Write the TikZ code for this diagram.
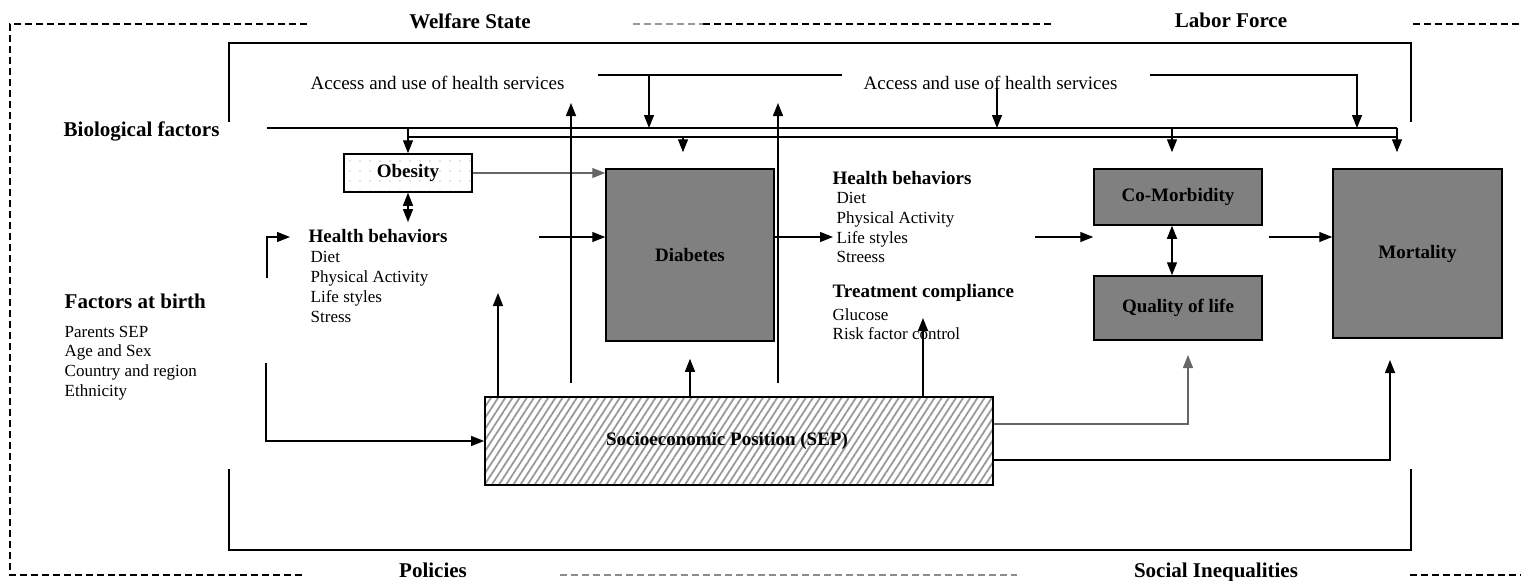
\documentclass[tikz,border=0pt]{standalone}
\usepackage{fontspec}
\setmainfont{Liberation Serif}
\usetikzlibrary{arrows.meta,patterns.meta}
\definecolor{boxgray}{RGB}{128,128,128}
\begin{document}
\begin{tikzpicture}[x=1pt,y=-1pt,line width=1.4pt,
  arr/.style={-{Triangle[length=13pt,width=10pt]}},
  dbl/.style={{Triangle[length=13pt,width=10pt]}-{Triangle[length=13pt,width=10pt]}},
  box/.style={draw,line width=1.5pt,fill=boxgray,inner sep=0pt,font=\fontsize{19}{22}\selectfont\bfseries},
  headA/.style={inner sep=0pt,font=\fontsize{21}{24}\selectfont\bfseries},
  headB/.style={inner sep=0pt,font=\fontsize{19}{22}\selectfont\bfseries},
  acc/.style={inner sep=0pt,font=\fontsize{19}{22}\selectfont},
  itm/.style={inner sep=0pt,font=\fontsize{17}{20}\selectfont,anchor=base west},
  frame/.style={line width=1.1pt,dash pattern=on 7pt off 4pt}
]
\useasboundingbox (0,0) rectangle (1521,581);

% outer dashed frame
\draw[frame] (307,24) -- (10,24) -- (10,575) -- (305,575);
\draw[frame,black!40] (633,24) -- (703,24);
\draw[frame] (703,24) -- (1052,24);
\draw[frame] (1413,24) -- (1521,24);
\draw[frame,black!45] (560,575) -- (1017,575);
\draw[frame] (1410,575) -- (1521,575);

% frame labels
\node[headA,anchor=base] (welfare) at (470,28) {Welfare State};
\node[headA,anchor=base] (labor) at (1231,27.5) {Labor Force};
\node[headA,anchor=base] (policies) at (433,577) {Policies};
\node[headA,anchor=base] (socineq) at (1216,577) {Social Inequalities};

% solid brackets
\draw (229,122) -- (229,43) -- (1411,43) -- (1411,122);
\draw (229,469) -- (229,550) -- (1411,550) -- (1411,469);

% boxes
\node[box,minimum width=168pt,minimum height=172pt] (diabetes) at (690,255) {Diabetes};
\node[box,minimum width=168pt,minimum height=56pt] (comorb) at (1178,197) {Co-Morbidity};
\node[box,minimum width=168pt,minimum height=64pt] (qol) at (1178,308) {Quality of life};
\node[box,minimum width=169pt,minimum height=169pt] (mort) at (1417.5,253.5) {Mortality};
\node[draw,line width=1.5pt,inner sep=0pt,pattern={Lines[angle=57,distance=6pt,line width=1.8pt]},pattern color=black!40,
  minimum width=508pt,minimum height=88pt,font=\fontsize{19}{22}\selectfont\bfseries] (sep) at (739,441) {Socioeconomic Position (SEP)\hspace*{24pt}};
\node[draw,line width=1.5pt,inner sep=0pt,pattern={Dots[distance=10pt,radius=0.7pt]},pattern color=black!45,
  minimum width=128pt,minimum height=38pt,font=\fontsize{19}{22}\selectfont\bfseries] (obesity) at (408,173) {Obesity};

% text blocks
\node[headA,anchor=base west] (bio) at (63,136) {Biological factors};
\node[acc,anchor=base west] (access1) at (310,89) {Access and use of health services};
\node[acc,anchor=base west] (access2) at (863,89) {Access and use of health services};

\node[headA,anchor=base west] (fab) at (64,308) {Factors at birth};
\node[itm] (fab1) at (64,337) {Parents SEP};
\node[itm] (fab2) at (64,356.7) {Age and Sex};
\node[itm] (fab3) at (64,376.4) {Country and region};
\node[itm] (fab4) at (64,396) {Ethnicity};

\node[headB,anchor=base west] (hb1h) at (308,242) {Health behaviors};
\node[itm] (hb1a) at (310,262) {Diet};
\node[itm] (hb1b) at (310,282) {Physical Activity};
\node[itm] (hb1c) at (310,302) {Life styles};
\node[itm] (hb1d) at (310,322) {Stress};

\node[headB,anchor=base west] (hb2h) at (832,184) {Health behaviors};
\node[itm] (hb2a) at (836,203.5) {Diet};
\node[itm] (hb2b) at (836,223) {Physical Activity};
\node[itm] (hb2c) at (836,243) {Life styles};
\node[itm] (hb2d) at (836,262) {Streess};

\node[headB,anchor=base west] (tch) at (832,297) {Treatment compliance};
\node[itm] (tca) at (832,320) {Glucose};
\node[itm] (tcb) at (832,339) {Risk factor control};

% biological factors pipe
\coordinate (bioL) at (267,128);
\coordinate (bioR) at (1397,128);
\coordinate (bio2L) at (407,137);
\coordinate (bio2R) at (1397,137);
\draw (bioL) -- (bioR);
\draw (bio2L) -- (bio2R);
\draw[arr] (obesity.north |- bioL) -- (obesity.north);
\coordinate (dIn) at ([xshift=-7pt]diabetes.north);
\draw[arr,shorten >=16pt] (dIn |- bio2L) -- (dIn);
\coordinate (cIn) at ([xshift=-6pt]comorb.north);
\draw[arr,shorten >=16pt] (cIn |- bioL) -- (cIn);
\draw[arr,shorten >=16pt] (bioR) -- (bioR |- mort.north);

% access and use of health services
\coordinate (accA) at (598,75);
\coordinate (accB) at (842,75);
\coordinate (acc1d) at (649,75);
\draw (accA) -- (accB);
\draw[arr] (acc1d) -- (acc1d |- bioL);
\coordinate (acc2d) at (997,88);
\draw[arr] (acc2d) -- (acc2d |- bioL);
\coordinate (accC) at (1150,75);
\coordinate (accD) at (1357,75);
\draw[arr] (accC) -- (accD) -- (accD |- bioL);

% obesity links
\draw[arr,black!60] (obesity.east) -- (obesity.east -| diabetes.west);
\draw[dbl,shorten >=6pt] (obesity.south) -- (obesity.south |- hb1h.north);

% factors at birth
\coordinate (fbh) at (267,278);
\coordinate (hb1in) at (290,237);
\draw[arr] (fbh) |- (hb1in);
\coordinate (fbs) at (266,363);
\draw[arr] (fbs) |- (sep.west);

% main chain
\coordinate (hb1out) at (539,237);
\draw[arr] (hb1out) -- (hb1out -| diabetes.west);
\coordinate (hb2in) at (833,237);
\draw[arr] (hb2in -| diabetes.east) -- (hb2in);
\coordinate (hb2out) at (1035,237);
\draw[arr] (hb2out) -- (hb2out -| comorb.west);
\coordinate (cq) at ([xshift=-6pt]comorb.south);
\draw[dbl] (cq) -- (cq |- qol.north);
\coordinate (cmout) at (1269,237);
\draw[arr] (cmout) -- (cmout -| mort.west);

% SEP arrows
\coordinate (hb1up) at (498,293);
\draw[arr] (hb1up |- sep.north) -- (hb1up);
\coordinate (u1a) at (571,383);
\coordinate (u1b) at (571,103);
\draw[arr] (u1a) -- (u1b);
\coordinate (u2a) at (778,383);
\coordinate (u2b) at (778,103);
\draw[arr] (u2a) -- (u2b);
\draw[arr,shorten >=17pt] (diabetes.south |- sep.north) -- (diabetes.south);
\coordinate (tcIn) at (923,318);
\draw[arr] (tcIn |- sep.north) -- (tcIn);
\coordinate (qIn) at (1188,355);
\draw[arr,black!60] ([yshift=17pt]sep.east) -| (qIn);
\coordinate (mIn) at (1390,360);
\draw[arr] ([yshift=-19pt]sep.east) -| (mIn);
\end{tikzpicture}
\end{document}
